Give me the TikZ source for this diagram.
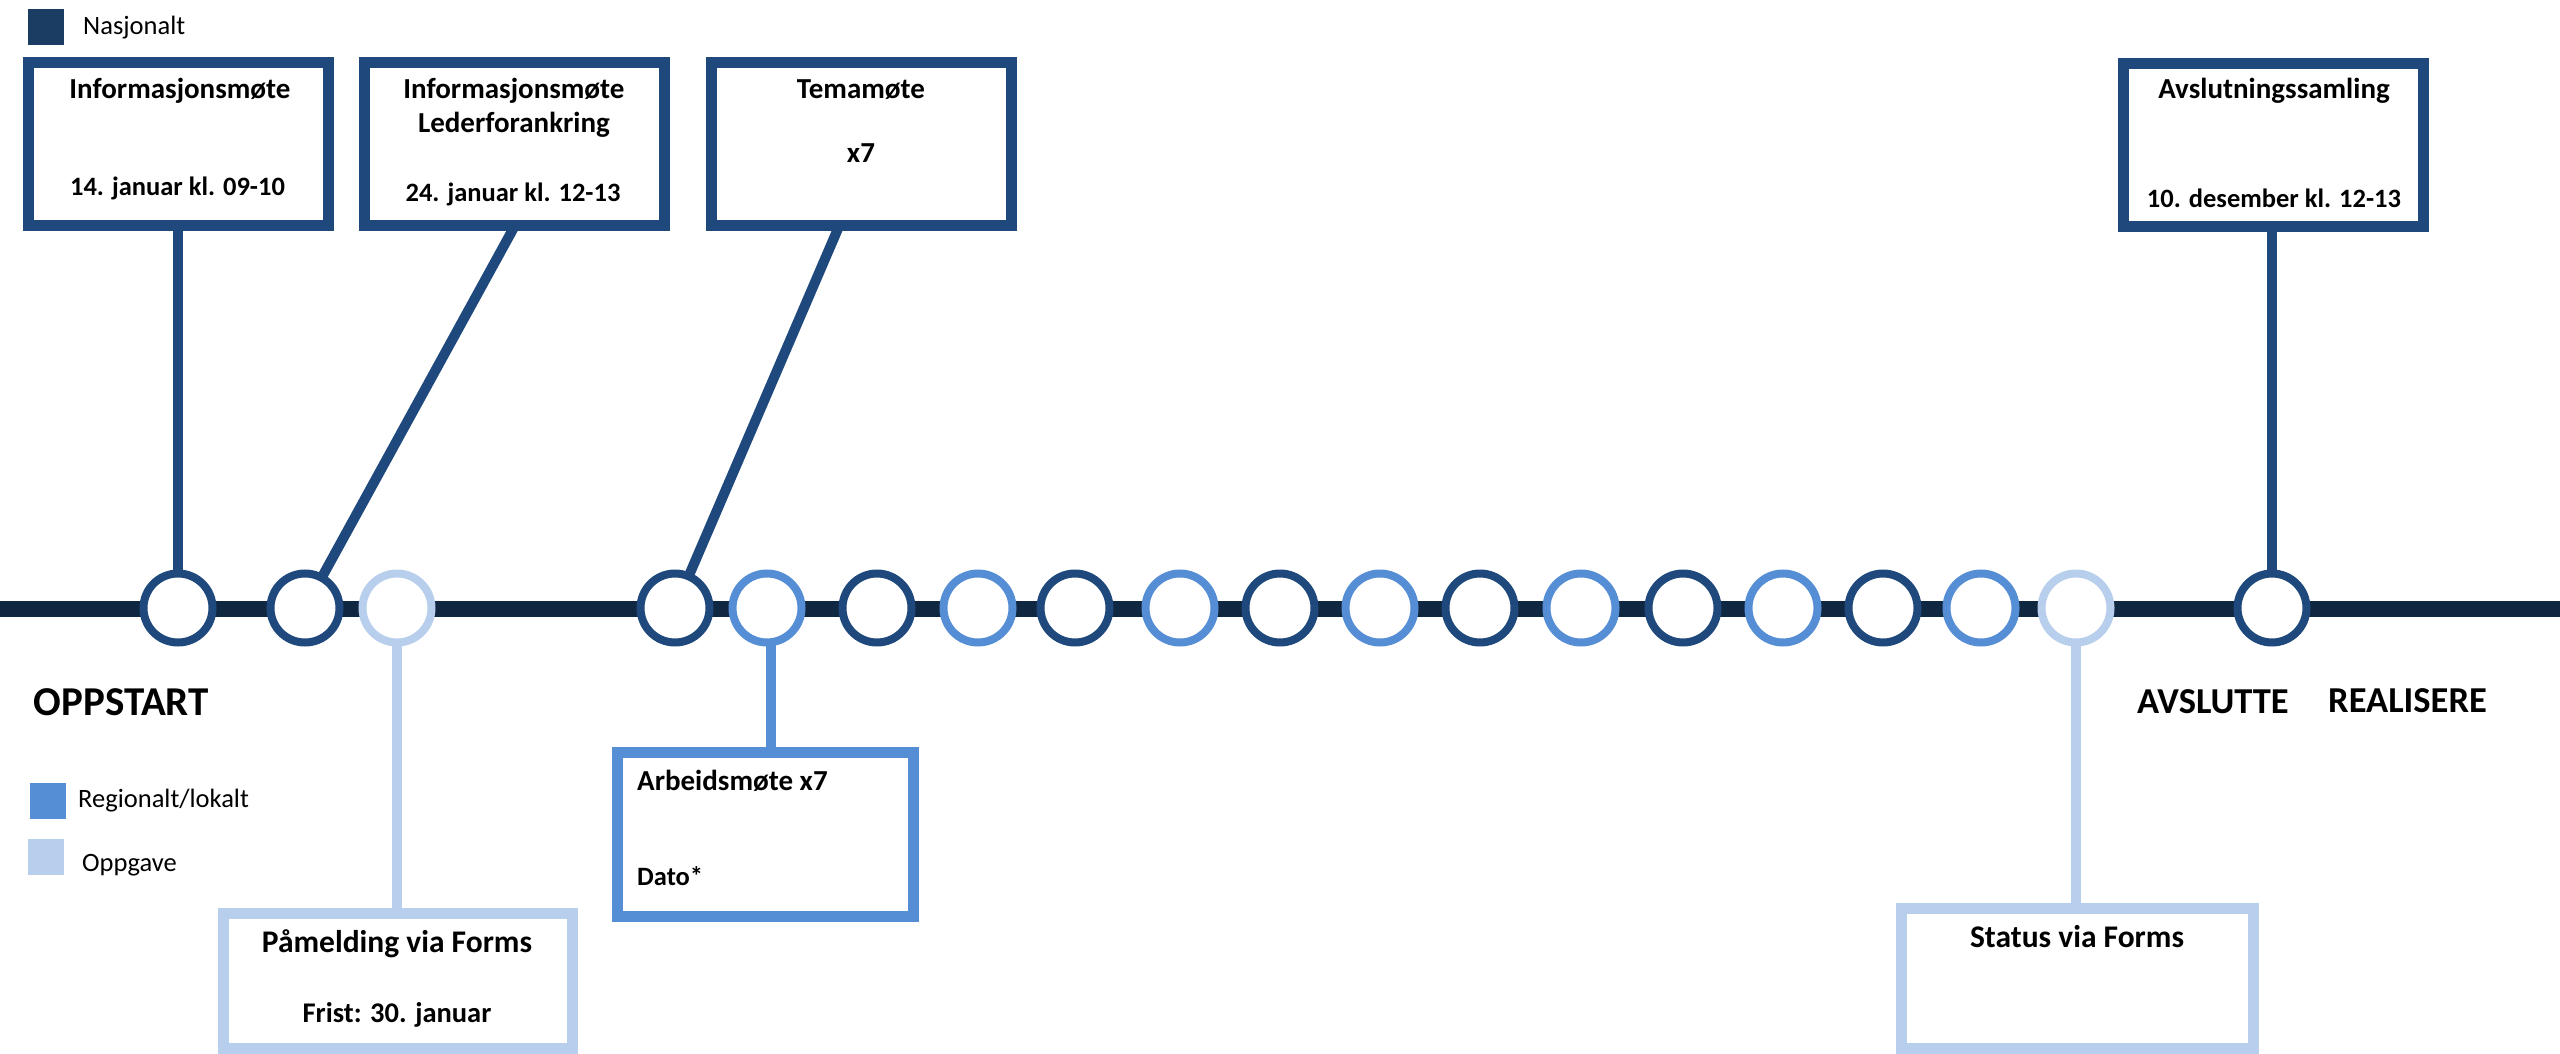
\documentclass[tikz,border=0pt]{standalone}
\usepackage{fontspec}
\setmainfont{Carlito}
\usetikzlibrary{calc}
\definecolor{trackc}{HTML}{0F2741}
\definecolor{nasj}{HTML}{1F497D}
\definecolor{nasjleg}{HTML}{1B3D63}
\definecolor{regc}{HTML}{558ED5}
\definecolor{oppc}{HTML}{B7CEEC}
\pgfdeclarelayer{bg}
\pgfsetlayers{bg,main}
\begin{document}
\begin{tikzpicture}[x=1pt,y=-1pt,
  stn/.style={circle, draw=#1, line width=8pt, fill=white, minimum size=69pt, inner sep=0pt},
  topbox/.style={rectangle, draw=nasj, line width=11pt, fill=white, minimum width=300pt, minimum height=163pt, inner sep=0pt},
  lowbox/.style={rectangle, draw=#1, line width=11pt, fill=white, inner sep=0pt},
  conn/.style={draw=#1, line width=10pt},
  ttl/.style={anchor=base, inner sep=0pt, font=\fontsize{29}{35}\selectfont\bfseries},
  dte/.style={anchor=base, inner sep=0pt, font=\fontsize{26.5}{32}\selectfont\bfseries},
  btl/.style={anchor=base, inner sep=0pt, font=\fontsize{31.5}{38}\selectfont\bfseries},
  leg/.style={anchor=base west, inner sep=0pt, font=\fontsize{26.5}{32}\selectfont},
  legsq/.style={rectangle, fill=#1, minimum size=36pt, inner sep=0pt},
  phase/.style={anchor=base west, inner sep=0pt, font=\fontsize{#1}{42}\selectfont\bfseries},
]
\useasboundingbox (0,0) rectangle (2560,1054);

% stations
\foreach \n/\x/\c in {1/178/nasj, 2/305/nasj, 3/397/oppc, 4/675/nasj, 5/767/regc,
  6/877/nasj, 7/978/regc, 8/1075/nasj, 9/1180/regc, 10/1280/nasj, 11/1380/regc,
  12/1480/nasj, 13/1581/regc, 14/1683/nasj, 15/1783/regc, 16/1883/nasj,
  17/1981/regc, 18/2076/oppc, 19/2272/nasj}
  \node[stn=\c] (c\n) at (\x,608) {};

% top boxes
\node[topbox] (b1) at (178.5,144) {};
\node[topbox] (b2) at (514.5,144) {};
\node[topbox] (b3) at (861,144) {};
\node[topbox] (b5) at (2273,145) {};

% bottom boxes
\node[lowbox=oppc, minimum width=349pt, minimum height=135pt] (pm) at (398,981) {};
\node[lowbox=regc, minimum width=296pt, minimum height=164pt] (am) at (765.5,834.5) {};
\node[lowbox=oppc, minimum width=352pt, minimum height=140pt] (st) at (2077.5,978.5) {};

\coordinate (b2s) at ($(b2.south)+(-2.5,0)$);
\coordinate (b3s) at ($(b3.south)+(-24,0)$);
\coordinate (amx) at ($(c5.center)+(4,0)$);

\begin{pgfonlayer}{bg}
  \coordinate (tl) at (0,609);
  \coordinate (tr) at (2560,609);
  \draw[trackc, line width=16.5pt] (tl) -- (tr);
  \draw[conn=nasj] (b1.center -| c1) -- (c1.center);
  \draw[conn=nasj] ($(c2.center)!1.06!(b2s)$) -- (c2.center);
  \draw[conn=nasj] ($(c4.center)!1.06!(b3s)$) -- (c4.center);
  \draw[conn=nasj] (b5.center -| c19) -- (c19.center);
  \draw[conn=oppc] (c3.center) -- (c3 |- pm.center);
  \draw[conn=regc] (amx) -- (amx |- am.center);
  \draw[conn=oppc] (c18.center) -- (c18 |- st.center);
\end{pgfonlayer}

% texts in top boxes
\node[ttl] (t1a) at (180,99) {Informasjonsmøte};
\node[dte] (t1b) at (177.5,195) {14. januar kl. 09-10};
\node[ttl] (t2a) at (514,99) {Informasjonsmøte};
\node[ttl] (t2b) at (514,133) {Lederforankring};
\node[dte] (t2c) at (513,201) {24. januar kl. 12-13};
\node[ttl] (t3a) at (861,99) {Temamøte};
\node[ttl] (t3b) at (861,163) {x7};
\node[ttl] (t5a) at (2274,99) {Avslutningssamling};
\node[dte] (t5b) at (2274,207) {10. desember kl. 12-13};

% texts in bottom boxes
\node[btl] (tpa) at (397,952) {Påmelding via Forms};
\node[dte, font=\fontsize{28.5}{34}\selectfont\bfseries] (tpb) at (397,1022) {Frist: 30. januar};
\node[ttl, anchor=base west] (taa) at (637,790) {Arbeidsmøte x7};
\node[dte, anchor=base west] (tab) at (637,885) {Dato*};
\node[btl] (tsa) at (2077,947) {Status via Forms};

% legend
\node[legsq=nasjleg] (l1) at (46,27) {};
\node[leg] (l1t) at (83,35) {Nasjonalt};
\node[legsq=regc] (l2) at (48,801) {};
\node[leg] (l2t) at (78,807) {Regionalt/lokalt};
\node[legsq=oppc] (l3) at (46,857) {};
\node[leg] (l3t) at (82,871) {Oppgave};

% phases
\node[phase=41] (p1) at (33.5,715) {OPPSTART};
\node[phase=36.5] (p2) at (2137,713) {AVSLUTTE};
\node[phase=36.5] (p3) at (2328,712) {REALISERE};
\end{tikzpicture}
\end{document}
